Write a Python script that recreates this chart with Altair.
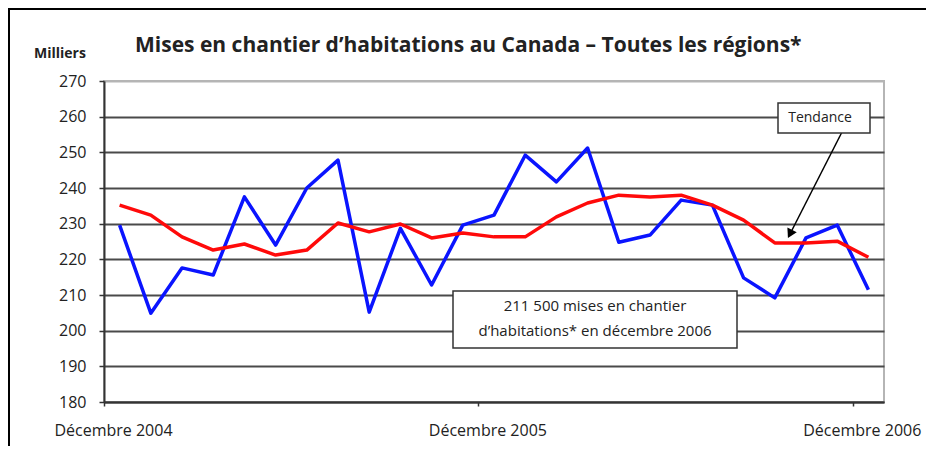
import altair as alt
import pandas as pd

# ---- data ----
months = ["déc. 2004", "janv. 2005", "févr. 2005", "mars 2005", "avr. 2005", "mai 2005",
          "juin 2005", "juil. 2005", "août 2005", "sept. 2005", "oct. 2005", "nov. 2005",
          "déc. 2005", "janv. 2006", "févr. 2006", "mars 2006", "avr. 2006", "mai 2006",
          "juin 2006", "juil. 2006", "août 2006", "sept. 2006", "oct. 2006", "nov. 2006",
          "déc. 2006"]
mises = [229.6, 204.9, 217.6, 215.6, 237.5, 224.0, 240.0, 247.8, 205.2, 228.7, 212.8, 229.6,
         232.4, 249.2, 241.7, 251.2, 224.8, 226.8, 236.6, 235.2, 214.8, 209.2, 226.0, 229.6,
         211.5]
tendance = [235.2, 232.4, 226.3, 222.6, 224.3, 221.2, 222.6, 230.2, 227.7, 229.9, 226.0, 227.4,
            226.3, 226.3, 231.9, 235.8, 238.0, 237.5, 238.0, 235.2, 231.0, 224.6, 224.6, 225.1,
            220.6]
tick_labels = ["Décembre 2004", "Décembre 2005", "Décembre 2006"]
tick_positions = [-0.5, 11.5, 23.5]
y_ticks = [180, 190, 200, 210, 220, 230, 240, 250, 260, 270]

title_text = "Mises en chantier d\u2019habitations au Canada \u2013 Toutes les régions*"
note_lines = ["211 500 mises en chantier", "d\u2019habitations* en décembre 2006"]
trend_label = "Tendance"

FONT = "Open Sans"

df = pd.DataFrame({
    "i": list(range(len(months))) * 2,
    "mois": months * 2,
    "valeur": mises + tendance,
    "serie": ["Mises en chantier"] * len(months) + ["Tendance"] * len(months),
})

label_expr = " : ".join(
    f"datum.value < {p + 6} ? '{t}'" for p, t in zip(tick_positions[:-1], tick_labels[:-1])
) + f" : '{tick_labels[-1]}'"

x = alt.X("i:Q",
          scale=alt.Scale(domain=[-0.5, 24.5], nice=False, zero=False),
          axis=alt.Axis(values=tick_positions, labelExpr=label_expr, title=None, grid=False,
                        domainColor="#333", domainWidth=2, tickColor="#333", tickSize=4,
                        tickWidth=1.5, labelFont=FONT, labelFontSize=16, labelColor="#222",
                        labelPadding=16, labelOffset=9, labelFlush=False))
y = alt.Y("valeur:Q",
          scale=alt.Scale(domain=[180, 270], nice=False, zero=False),
          axis=alt.Axis(values=y_ticks, title=None, grid=True,
                        gridColor={"condition": {"test": "datum.value === 270", "value": "#b5b5b5"},
                                   "value": "#4a4a4a"},
                        gridWidth=2, domainColor="#333", domainWidth=2, tickColor="#333",
                        tickSize=5, tickWidth=1.5, labelFont=FONT, labelFontSize=16,
                        labelColor="#222", labelPadding=13))

lines = alt.Chart(df).mark_line(strokeWidth=3.5, strokeJoin="round").encode(
    x=x, y=y,
    color=alt.Color("serie:N", scale=alt.Scale(domain=["Mises en chantier", "Tendance"],
                                               range=["#0a14ff", "#ff0a0a"]), legend=None),
    order="i:Q",
    tooltip=["mois:N", "serie:N", "valeur:Q"],
)

# title, annotation boxes, arrow and outer frame (pixel positions relative to plot area)
title = alt.Chart(pd.DataFrame({"t": [title_text]})).mark_text(
    font=FONT, fontSize=21, fontWeight="bold", color="#222", align="left", baseline="middle",
    clip=False).encode(x=alt.value(31), y=alt.value(-35), text="t")
box1 = alt.Chart(pd.DataFrame({"t": [note_lines[0]]})).mark_rect(
    fill="white", stroke="#333", strokeWidth=1.5, clip=False).encode(
    x=alt.value(349), x2=alt.value(633), y=alt.value(210), y2=alt.value(267))
note = alt.Chart(pd.DataFrame({"t": [note_lines]})).mark_text(
    font=FONT, fontSize=15, color="#222", align="center", baseline="middle",
    lineHeight=25, clip=False).encode(
    x=alt.value(491), y=alt.value(225), text="t")
box2 = alt.Chart(pd.DataFrame({"t": [trend_label]})).mark_rect(
    fill="white", stroke="#333", strokeWidth=1.5, clip=False).encode(
    x=alt.value(674), x2=alt.value(766), y=alt.value(22), y2=alt.value(52))
trend_txt = alt.Chart(pd.DataFrame({"t": [trend_label]})).mark_text(
    font=FONT, fontSize=14, color="#222", align="center", baseline="middle", clip=False).encode(
    x=alt.value(716), y=alt.value(37), text="t")
arrow = alt.Chart(pd.DataFrame({"t": [trend_label]})).mark_rule(
    color="black", strokeWidth=1.5, clip=False).encode(
    x=alt.value(738), y=alt.value(51), x2=alt.value(686), y2=alt.value(153))
head = alt.Chart(pd.DataFrame({"t": [trend_label]})).mark_point(
    shape="triangle-up", filled=True, color="black", size=110, angle=207, opacity=1,
    clip=False).encode(x=alt.value(686), y=alt.value(153))
milliers = alt.Chart(pd.DataFrame({"t": ["Milliers"]})).mark_text(
    font=FONT, fontSize=14, fontWeight="bold", color="#222", align="left", baseline="middle",
    clip=False).encode(x=alt.value(-70), y=alt.value(-27), text="t")
frame_left = alt.Chart(pd.DataFrame({"t": ["f"]})).mark_rule(
    color="black", strokeWidth=2, clip=False).encode(
    x=alt.value(-95), y=alt.value(-72), y2=alt.value(371))
frame_top = alt.Chart(pd.DataFrame({"t": ["f"]})).mark_rule(
    color="black", strokeWidth=2, clip=False).encode(
    x=alt.value(-96), x2=alt.value(822), y=alt.value(-72))

chart = alt.layer(
    lines, box1, note, arrow, head, box2, trend_txt, title, milliers, frame_left, frame_top
).properties(
    width=780, height=321,
    autosize=alt.AutoSizeParams(type="none"),
    padding={"left": 96, "top": 73, "right": 42, "bottom": 44},
    background="white",
).configure_view(stroke="#b5b5b5", strokeWidth=2)

chart.save("out.html", embed_options={"renderer": "svg", "actions": False})
